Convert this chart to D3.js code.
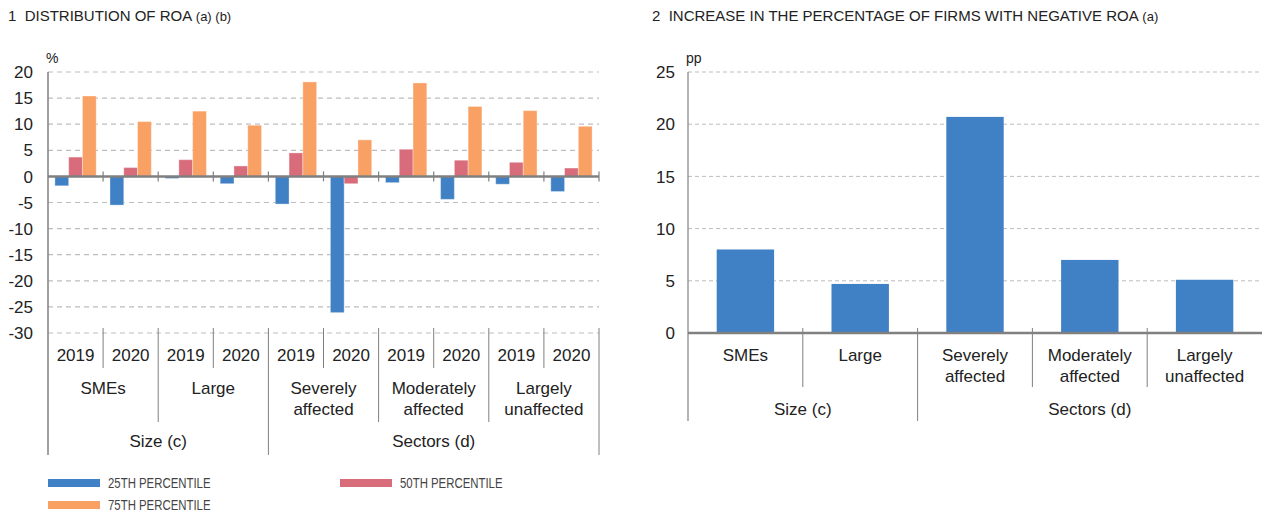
<!DOCTYPE html>
<html>
<head>
<meta charset="utf-8">
<title>ROA</title>
<script src="https://cdn.jsdelivr.net/npm/d3@7"></script>
<style>
    html, body { margin: 0; padding: 0; background: #fff; }
    svg { display: block; font-family: "Liberation Sans", Arial, sans-serif; }
    text { white-space: pre; }
</style>
</head>
<body>
<svg width="1264" height="513"></svg>
<script>
    // data
    var categories = ["SMEs", "Large", "Severely affected", "Moderately affected", "Largely unaffected"];
    var years = ["2019", "2020"];
    var groups = [{name: "Size (c)", n: 2}, {name: "Sectors (d)", n: 3}];
    var seriesNames = ["25TH PERCENTILE", "50TH PERCENTILE", "75TH PERCENTILE"];
    var p25 = [-1.8, -5.5, -0.4, -1.4, -5.3, -26.1, -1.2, -4.4, -1.5, -2.9];
    var p50 = [3.7, 1.7, 3.2, 2.0, 4.5, -1.4, 5.2, 3.1, 2.7, 1.6];
    var p75 = [15.4, 10.5, 12.5, 9.8, 18.1, 7.0, 17.9, 13.4, 12.6, 9.6];
    var increase = [8.0, 4.7, 20.7, 7.0, 5.1];
    var leftTicks = [20, 15, 10, 5, 0, -5, -10, -15, -20, -25, -30];
    var rightTicks = [25, 20, 15, 10, 5, 0];

    var colors = ["#4080c4", "#d86c7a", "#f9a064"];
    var textCol = "#222";
    var gridCol = "#bdbdbd";
    var axisCol = "#808080";
    var fs = "17px";

    var svg = d3.select("svg");

    // titles
    function title(x, main, note) {
        var t = svg.append("text").attr("x", x).attr("y", 21)
            .attr("fill", textCol).style("font-size", "15px");
        t.append("tspan").text(main);
        t.append("tspan").style("font-size", "13px").text(" " + note);
    }
    title(8, "1  DISTRIBUTION OF ROA", "(a) (b)");
    title(652, "2  INCREASE IN THE PERCENTAGE OF FIRMS WITH NEGATIVE ROA", "(a)");

    // ---------- chart 1 ----------
    var L = {x0: 48, x1: 599, top: 72, bottom: 333};
    var yL = d3.scaleLinear().domain([-30, 20]).range([L.bottom, L.top]);
    var slots = [];
    categories.forEach(function (c, i) {
        years.forEach(function (y) { slots.push(i + "_" + y); });
    });
    var xL = d3.scaleBand().domain(slots).range([L.x0, L.x1]).padding(0);
    var xS = d3.scaleBand().domain(d3.range(3)).range([0, xL.bandwidth()]).paddingInner(0).paddingOuter(0.5);

    var g1 = svg.append("g");
    // grid
    g1.selectAll("line.grid").data(leftTicks.filter(function (d) { return d !== 0; }))
        .enter().append("line")
        .attr("x1", L.x0).attr("x2", L.x1)
        .attr("y1", yL).attr("y2", yL)
        .attr("stroke", gridCol).attr("stroke-width", 1.2).attr("stroke-dasharray", "5,4");
    g1.selectAll("text.tick").data(leftTicks).enter().append("text")
        .attr("x", 33).attr("y", yL).attr("dy", "0.36em")
        .attr("text-anchor", "end").attr("fill", textCol).style("font-size", fs)
        .text(function (d) { return d; });
    g1.append("text").attr("x", 46).attr("y", 63).attr("fill", textCol)
        .style("font-size", "14px").text("%");

    // bars
    var seriesL = [p25, p50, p75];
    seriesL.forEach(function (vals, s) {
        g1.selectAll("rect.s" + s).data(vals).enter().append("rect")
            .attr("x", function (d, i) { return xL(slots[i]) + xS(s); })
            .attr("width", xS.bandwidth())
            .attr("y", function (d) { return yL(Math.max(0, d)); })
            .attr("height", function (d) { return Math.abs(yL(d) - yL(0)); })
            .attr("fill", colors[s])
            .attr("stroke", "rgba(255,255,255,0.35)").attr("stroke-width", 1);
    });

    // axes lines
    g1.append("line").attr("x1", L.x0).attr("x2", L.x0).attr("y1", L.top).attr("y2", 455)
        .attr("stroke", axisCol).attr("stroke-width", 1.5);
    g1.append("line").attr("x1", L.x0).attr("x2", L.x1).attr("y1", yL(0)).attr("y2", yL(0))
        .attr("stroke", axisCol).attr("stroke-width", 2.5);
    // ticks on zero line
    g1.selectAll("line.zt").data(slots.slice(1).concat(["end"])).enter().append("line")
        .attr("x1", function (d) { return d === "end" ? L.x1 : xL(d); })
        .attr("x2", function (d) { return d === "end" ? L.x1 : xL(d); })
        .attr("y1", yL(0) - 5).attr("y2", yL(0) + 5)
        .attr("stroke", axisCol).attr("stroke-width", 1.2);

    // category axis (three levels)
    function catAxis(g, xCell, cellKeys, yLab, catX, catW, catLabelY, catSepBottom, groupLabelY, bottom, x1, sepTop, sub) {
        if (sub) {
            // year level
            g.selectAll("text.yr").data(cellKeys).enter().append("text")
                .attr("x", function (d) { return xCell(d) + xCell.bandwidth() / 2; })
                .attr("y", yLab).attr("dy", "0.36em").attr("text-anchor", "middle")
                .attr("fill", textCol).style("font-size", fs)
                .text(function (d) { return d.split("_")[1]; });
            g.selectAll("line.yr").data(cellKeys.filter(function (d, i) { return i % 2 === 1; }))
                .enter().append("line")
                .attr("x1", xCell).attr("x2", xCell)
                .attr("y1", sepTop).attr("y2", sub)
                .attr("stroke", axisCol).attr("stroke-width", 1);
        }
        // category level
        categories.forEach(function (c, i) {
            var words = c.split(" ");
            var t = g.append("text").attr("x", catX(i) + catW / 2).attr("y", catLabelY)
                .attr("text-anchor", "middle").attr("fill", textCol).style("font-size", fs);
            words.forEach(function (w, k) {
                t.append("tspan").attr("x", catX(i) + catW / 2).attr("dy", k === 0 ? "0.36em" : "21px").text(w);
            });
            if (i > 0) {
                var isGroupEdge = (i === groups[0].n);
                g.append("line").attr("x1", catX(i)).attr("x2", catX(i))
                    .attr("y1", sepTop).attr("y2", isGroupEdge ? bottom : catSepBottom)
                    .attr("stroke", axisCol).attr("stroke-width", 1);
            }
        });
        // group level
        var start = 0;
        groups.forEach(function (gr) {
            var a = catX(start), b = catX(start + gr.n);
            g.append("text").attr("x", (a + b) / 2).attr("y", groupLabelY).attr("dy", "0.36em")
                .attr("text-anchor", "middle").attr("fill", textCol).style("font-size", fs)
                .text(gr.name);
            start += gr.n;
        });
        g.append("line").attr("x1", x1).attr("x2", x1).attr("y1", sepTop).attr("y2", bottom)
            .attr("stroke", axisCol).attr("stroke-width", 1);
    }

    var catWL = xL.bandwidth() * 2;
    catAxis(g1, xL, slots, 355,
        function (i) { return L.x0 + i * catWL; }, catWL,
        388, 422, 441, 455, L.x1, L.bottom - 5, 368);

    // legend
    var leg = svg.append("g");
    var legPos = [[48, 483], [340, 483], [48, 505]];
    seriesNames.forEach(function (s, i) {
        leg.append("rect").attr("x", legPos[i][0]).attr("y", legPos[i][1] - 4)
            .attr("width", 52).attr("height", 8).attr("fill", colors[i]);
        leg.append("text")
            .attr("transform", "translate(" + (legPos[i][0] + 60) + "," + legPos[i][1] + ") scale(0.76,1)")
            .attr("dy", "0.36em").attr("fill", "#444").style("font-size", "15px").text(s);
    });

    // ---------- chart 2 ----------
    var R = {x0: 688, x1: 1262, top: 72, bottom: 333};
    var yR = d3.scaleLinear().domain([0, 25]).range([R.bottom, R.top]);
    var xR = d3.scaleBand().domain(categories).range([R.x0, R.x1]).padding(0);
    var xRb = d3.scaleBand().domain(categories).range([R.x0, R.x1]).paddingInner(0.5).paddingOuter(0.25);

    var g2 = svg.append("g");
    g2.selectAll("line.grid").data(rightTicks.filter(function (d) { return d !== 0; }))
        .enter().append("line")
        .attr("x1", R.x0).attr("x2", R.x1)
        .attr("y1", yR).attr("y2", yR)
        .attr("stroke", gridCol).attr("stroke-width", 1).attr("stroke-dasharray", "4,3");
    g2.selectAll("text.tick").data(rightTicks).enter().append("text")
        .attr("x", 675).attr("y", yR).attr("dy", "0.36em")
        .attr("text-anchor", "end").attr("fill", textCol).style("font-size", fs)
        .text(function (d) { return d; });
    g2.append("text").attr("x", 686).attr("y", 63).attr("fill", textCol)
        .style("font-size", "14px").text("pp");

    g2.selectAll("rect").data(increase).enter().append("rect")
        .attr("x", function (d, i) { return xRb(categories[i]); })
        .attr("width", xRb.bandwidth())
        .attr("y", function (d) { return yR(d); })
        .attr("height", function (d) { return yR(0) - yR(d); })
        .attr("fill", colors[0]);

    g2.append("line").attr("x1", R.x0).attr("x2", R.x0).attr("y1", R.top).attr("y2", 421)
        .attr("stroke", axisCol).attr("stroke-width", 1.2);
    g2.append("line").attr("x1", R.x0).attr("x2", R.x1).attr("y1", yR(0)).attr("y2", yR(0))
        .attr("stroke", axisCol).attr("stroke-width", 2.5);

    catAxis(g2, xR, categories, null,
        function (i) { return R.x0 + i * xR.bandwidth(); }, xR.bandwidth(),
        355, 387, 409, 421, R.x1 + 10, R.bottom - 5, null);
</script>
</body>
</html>
